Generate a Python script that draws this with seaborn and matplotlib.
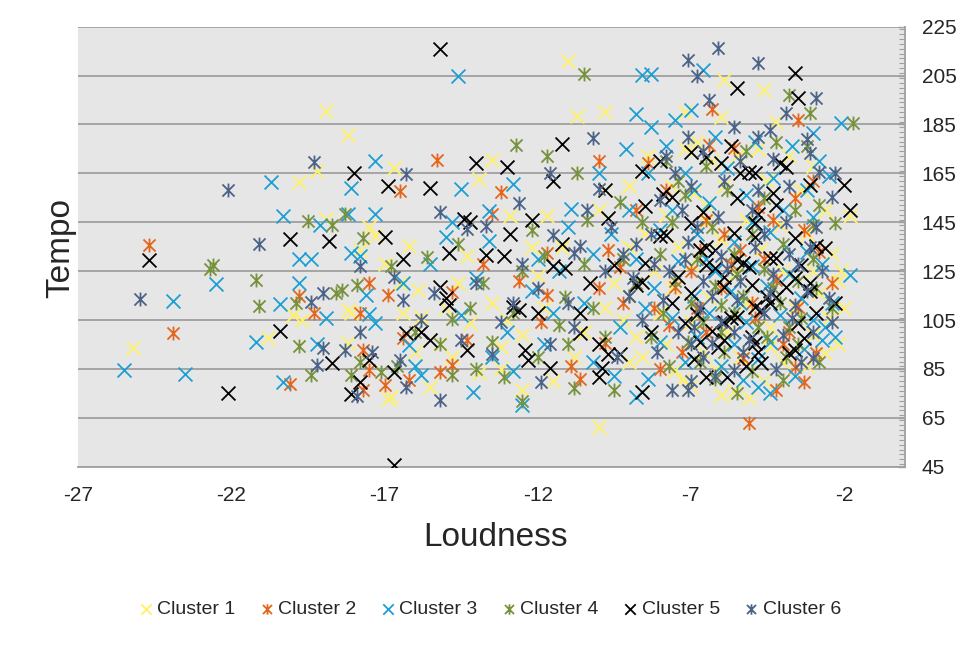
import matplotlib
matplotlib.use("Agg")
import matplotlib.pyplot as plt
from matplotlib.path import Path
from matplotlib.ticker import MultipleLocator
import seaborn as sns

# ---- data (loudness, tempo) ----
c1_loud = [-18.9, -18.2, -19.2, -19.8, -18.9, -17.3, -25.2, -20.8, -20.0, -18.2,
           -18.1, -18.2, -16.9, -11.0, -10.7, -9.8, -16.7, -13.5, -13.9, -12.9,
           -11.7, -10.0, -16.2, -15.9, -16.4, -15.8, -14.2, -16.8, -15.5, -13.9,
           -12.5, -10.0, -5.9, -4.6, -1.8, -2.6, -5.1, -6.0, -7.5, -7.3,
           -4.4, -9.8, -17.8, -17.0, -16.5, -15.0, -14.6, -13.5, -13.0, -12.5,
           -14.8, -13.2, -11.5, -10.5, -9.8, -9.0, -17.5, -15.2, -12.0, -11.2,
           -14.3, -13.2, -7.2, -6.8, -6.3, -5.5, -4.8, -3.8, -3.0, -7.6,
           -6.9, -5.9, -4.5, -3.4, -2.6, -7.8, -6.5, -5.2, -4.1, -3.2,
           -2.4, -7.4, -6.0, -4.7, -3.0, -2.2, -8.2, -7.0, -5.6, -4.0,
           -2.8, -7.6, -6.4, -5.2, -3.6, -2.5, -8.0, -7.0, -5.8, -4.4,
           -3.0, -2.2, -7.8, -6.6, -5.4, -4.0, -3.2, -8.6, -6.2, -4.6,
           -7.0, -5.6, -2.0, -2.1, -8.5, -9.0, -9.5, -9.2, -8.8, -9.0,
           -8.4, -6.0, -7.2, -4.2, -19.7, -16.0, -11.8, -10.8, -12.2, -6.5]
c1_tempo = [190.6, 180.7, 166.0, 161.3, 146.4, 139.4, 93.6, 97.6, 107.0, 109.0,
            107.8, 95.5, 72.8, 210.8, 188.3, 190.2, 167.3, 170.5, 162.5, 147.5,
            147.5, 150.2, 135.2, 117.3, 107.8, 106.4, 103.7, 73.5, 77.6, 83.2,
            76.2, 61.2, 203.0, 199.1, 147.5, 91.5, 73.0, 74.3, 84.6, 80.5,
            94.0, 158.0, 133.5, 128.0, 120.0, 110.0, 120.0, 112.0, 105.0, 99.0,
            90.0, 85.0, 80.0, 100.0, 110.0, 88.0, 143.0, 95.0, 123.0, 135.0,
            131.0, 94.0, 175, 178, 170, 172, 175, 172, 168, 160,
            157, 160, 162, 158, 150, 148, 145, 146, 144, 140,
            132, 135, 138, 134, 125, 121, 125, 128, 124, 125,
            116, 118, 114, 112, 110, 106, 108, 104, 100, 102,
            99, 95, 95, 92, 90, 88, 86, 90, 85, 80,
            78, 76, 110, 125, 140, 135, 120, 105, 98, 160,
            172, 188, 190, 186, 105, 92, 110, 90, 135, 152]

c2_loud = [-24.7, -23.9, -19.8, -19.3, -20.1, -17.8, -17.5, -17.7, -17.5, -17.7,
           -17.0, -15.3, -16.5, -13.2, -13.5, -11.7, -16.9, -14.8, -14.3, -16.4,
           -16.2, -15.2, -14.8, -10.9, -10.6, -11.7, -10.0, -6.3, -6.4, -3.5,
           -3.0, -3.6, -2.4, -2.9, -3.6, -3.3, -4.2, -5.1, -5.3, -3.5,
           -4.2, -4.9, -9.2, -7.7, -9.8, -10.0, -7.5, -9.7, -6.7, -9.3,
           -8.4, -6.5, -5.6, -4.8, -3.3, -4.3, -5.4, -7.0, -6.0, -5.0,
           -6.5, -7.3, -8.2, -4.6, -3.8, -8.8, -7.8, -5.9, -6.8, -12.6,
           -11.9, -13.8, -4.0, -5.7, -2.8, -8.0]
c2_tempo = [135.8, 99.9, 114.9, 107.8, 78.7, 108.0, 120.1, 92.7, 84.5, 76.2,
            78.3, 170.5, 157.8, 157.5, 148.2, 132.4, 115.3, 116.6, 96.8, 97.6,
            80.5, 83.8, 86.5, 86.0, 81.0, 115.3, 170.2, 191.2, 176.6, 186.9,
            162.0, 154.8, 120.0, 91.4, 85.9, 79.8, 76.4, 62.7, 89.3, 110.5,
            121.4, 106.0, 111.9, 103.0, 95.5, 118.0, 118.7, 133.6, 133.6, 126.9,
            169.1, 146.0, 175.3, 151.4, 141.8, 146.0, 133.6, 125, 118, 112,
            100, 92, 110, 130, 100, 150, 158, 140, 110, 121,
            104, 128, 95, 128, 133, 85]

c3_loud = [-17.3, -20.7, -18.1, -20.3, -19.1, -18.2, -17.3, -22.5, -23.9, -25.5,
           -23.5, -20.4, -21.2, -19.8, -19.4, -19.8, -18.9, -19.2, -20.3, -18.1,
           -17.8, -17.6, -17.5, -17.3, -14.6, -8.6, -8.3, -8.8, -8.3, -9.1,
           -10.0, -14.5, -12.8, -13.6, -10.9, -13.6, -16.2, -15.8, -14.1, -12.5,
           -8.8, -8.4, -6.6, -7.0, -2.1, -7.5, -3.0, -1.8, -2.6, -4.4,
           -4.8, -5.3, -15.5, -14.0, -12.2, -11.3, -10.2, -13.0, -11.8, -14.5,
           -10.5, -12.8, -9.3, -9.6, -11.0, -15.0, -16.4, -16.0, -7.8, -6.2,
           -4.9, -3.7, -2.8, -7.2, -5.8, -4.3, -3.2, -2.5, -7.6, -6.4,
           -5.2, -4.0, -3.0, -8.0, -6.8, -5.6, -4.4, -3.2, -7.4, -6.2,
           -5.0, -3.8, -2.7, -8.2, -6.9, -5.7, -4.5, -3.4, -7.6, -6.4,
           -5.2, -4.1, -3.0, -2.3, -8.0, -6.8, -5.6, -4.4, -3.3, -7.2,
           -6.0, -4.8, -3.6, -2.7, -8.5, -8.8, -9.0, -8.4, -12.0, -14.8,
           -11.5, -13.5, -10.2, -9.5, -6.5, -5.4, -3.9, -2.4, -6.9, -5.0]
c3_tempo = [170.2, 161.3, 159.1, 147.5, 144.0, 148.2, 148.2, 119.8, 112.9, 84.5,
            82.8, 111.4, 96.1, 130.0, 130.0, 120.2, 106.0, 95.2, 79.6, 132.4,
            131.0, 115.3, 107.5, 103.7, 204.8, 205.3, 205.7, 189.3, 183.8, 175.1,
            165.0, 158.7, 160.5, 149.5, 150.5, 137.4, 94.7, 82.4, 75.6, 70.1,
            73.5, 81.0, 207.3, 190.9, 185.8, 186.9, 181.7, 123.4, 102.3, 75.0,
            77.7, 80.5, 128, 122, 117, 125, 132, 100, 95, 107,
            112, 84, 102, 140, 143, 139, 120, 86, 176, 180,
            178, 176, 170, 165, 167, 163, 158, 164, 150, 153,
            156, 150, 147, 142, 140, 137, 141, 133, 129, 125,
            127, 124, 128, 118, 115, 117, 119, 114, 106, 108,
            104, 107, 105, 98, 96, 98, 95, 96, 93, 88,
            86, 89, 82, 97, 110, 130, 150, 165, 130, 145,
            108, 90, 88, 82, 130, 112, 135, 112, 158, 145]

c4_loud = [-19.5, -18.7, -18.3, -22.6, -22.7, -21.2, -21.1, -19.9, -19.8, -19.4,
           -18.6, -18.4, -17.9, -17.7, -17.8, -18.1, -17.1, -10.5, -12.7, -11.7,
           -10.7, -10.4, -9.3, -14.6, -15.6, -16.8, -16.6, -14.8, -11.3, -11.1,
           -13.5, -13.1, -14.8, -12.5, -10.8, -9.5, -3.8, -3.1, -1.7, -2.8,
           -2.3, -3.0, -4.0, -5.5, -6.2, -7.4, -16.0, -15.2, -13.8, -12.5,
           -11.8, -10.2, -9.8, -12.0, -10.5, -12.2, -14.0, -9.0, -7.8, -6.5,
           -5.2, -4.2, -3.2, -7.2, -5.8, -4.6, -3.6, -7.6, -6.3, -5.0,
           -4.0, -3.0, -8.0, -6.8, -5.6, -4.6, -3.5, -7.5, -6.2, -5.3,
           -4.1, -2.9, -7.9, -6.6, -5.6, -4.8, -3.4, -8.3, -7.1, -5.9,
           -4.5, -3.5, -7.7, -6.7, -5.0, -3.9, -2.8, -8.8, -9.2, -2.4,
           -6.0, -7.0, -14.2, -12.8, -11.0, -8.6, -6.0, -4.3, -5.5, -3.8]
c4_tempo = [145.4, 144.0, 148.2, 127.6, 126.0, 121.4, 110.7, 111.9, 94.2, 82.4,
            116.0, 117.3, 119.4, 138.7, 87.9, 82.4, 83.8, 205.7, 176.5, 172.1,
            165.0, 146.1, 153.3, 136.2, 130.7, 127.2, 86.0, 105.6, 103.0, 114.6,
            96.1, 81.7, 82.4, 72.0, 77.1, 76.2, 197.1, 189.8, 185.8, 152.0,
            144.6, 143.9, 80.5, 75.0, 81.0, 162.0, 100, 95, 120, 125,
            131, 110, 98, 90, 128, 142, 85, 115, 170, 168,
            174, 178, 176, 156, 158, 155, 150, 145, 143, 140,
            136, 130, 132, 130, 132, 126, 121, 121, 119, 115,
            112, 118, 108, 104, 108, 102, 106, 98, 96, 92,
            98, 95, 86, 88, 84, 90, 88, 120, 130, 110,
            111, 112, 110, 108, 95, 145, 100, 118, 124, 102]

c5_loud = [-15.2, -16.7, -24.7, -22.1, -20.1, -18.8, -18.0, -16.9, -17.0, -20.4,
           -18.7, -17.5, -17.8, -18.1, -15.5, -14.0, -13.0, -11.2, -11.5, -9.8,
           -8.0, -8.6, -14.4, -14.2, -12.2, -9.7, -12.9, -14.9, -13.7, -13.1,
           -11.2, -16.4, -15.2, -15.0, -14.9, -14.3, -16.3, -15.8, -15.5, -16.7,
           -12.4, -12.3, -11.6, -10.0, -9.9, -10.6, -10.0, -9.7, -9.3, -8.6,
           -10.6, -12.0, -12.6, -12.8, -10.3, -11.5, -11.1, -9.5, -8.8, -8.6,
           -8.5, -8.0, -7.9, -8.5, -3.6, -5.5, -3.5, -5.7, -4.1, -3.9,
           -6.5, -7.0, -6.0, -5.4, -5.1, -4.9, -2.0, -3.1, -1.8, -4.3,
           -4.2, -5.5, -7.6, -6.6, -2.9, -2.6, -2.3, -3.5, -3.8, -3.6,
           -6.5, -5.8, -4.7, -4.8, -4.9, -5.0, -6.7, -6.1, -5.9, -7.2,
           -5.9, -5.7, -5.5, -4.9, -4.7, -4.4, -4.5, -4.2, -3.6, -3.9,
           -3.1, -3.1, -7.0, -7.4, -6.7, -6.5, -6.2, -6.5, -6.2, -5.5,
           -5.3, -5.1, -5.9, -5.9, -5.6, -4.9, -4.9, -4.8, -4.4, -4.2,
           -3.6, -7.0, -7.8, -6.8, -6.3, -5.2, -3.3, -2.9, -3.4, -6.9,
           -8.3, -7.6, -5.0]
c5_tempo = [215.7, 45.5, 129.4, 75.1, 138.1, 137.2, 165.3, 159.8, 139.1, 100.5,
            87.6, 88.6, 79.6, 74.9, 159.1, 169.1, 167.6, 176.9, 162.0, 158.2,
            169.9, 166.0, 146.4, 145.0, 146.1, 146.6, 140.0, 132.6, 131.8, 131.4,
            136.2, 130.0, 118.7, 113.9, 111.2, 92.7, 99.5, 100.2, 96.8, 83.8,
            92.7, 88.6, 85.3, 81.7, 85.3, 99.5, 95.4, 91.3, 91.3, 75.6,
            107.8, 107.8, 109.1, 110.5, 120.1, 127.0, 126.3, 127.6, 119.4, 120.7,
            128.4, 139.4, 156.4, 151.7, 206.0, 200.1, 195.7, 176.2, 169.1, 167.7,
            171.8, 173.9, 169.4, 165.0, 165.7, 165.0, 160.3, 160.3, 150.0, 156.9,
            152.0, 154.8, 155.5, 149.3, 135.1, 134.3, 111.8, 103.7, 91.4, 92.7,
            81.8, 81.8, 87.3, 92.0, 95.5, 98.2, 96.1, 94.1, 96.8, 103.7,
            104.3, 105.7, 106.4, 110.5, 109.1, 111.9, 114.6, 114.6, 122.1, 118.6,
            120.0, 117.0, 116.0, 122.7, 133.7, 135.0, 133.7, 127.5, 126.2, 129.6,
            128.2, 126.8, 122.7, 118.6, 140.5, 139.1, 144.6, 148.5, 130.3, 130.3,
            138.4, 144.6, 139.8, 107.5, 100.5, 86.0, 97.5, 108.0, 127.5, 89.0,
            100.0, 112.0, 119.5]

c6_loud = [-19.3, -22.1, -21.1, -25.0, -19.4, -19.0, -19.0, -19.2, -17.8, -17.8,
           -18.3, -17.4, -17.9, -16.3, -15.2, -14.3, -13.7, -12.6, -11.5, -11.6,
           -10.0, -10.2, -16.7, -16.4, -15.4, -16.5, -16.3, -15.2, -13.5, -11.9,
           -11.6, -10.8, -10.6, -8.0, -6.1, -7.1, -6.8, -4.8, -2.9, -6.4,
           -3.9, -5.6, -7.1, -4.8, -4.4, -3.2, -3.1, -7.5, -2.8, -2.3,
           -2.4, -3.1, -2.5, -3.0, -5.6, -7.6, -7.1, -7.0, -6.9, -6.3,
           -14.0, -12.8, -13.2, -9.8, -9.0, -10.8, -12.5, -9.4, -14.5, -15.8,
           -9.6, -8.8, -7.8, -6.6, -5.4, -4.3, -7.0, -5.9, -4.8, -3.8,
           -7.3, -6.1, -5.0, -3.9, -2.9, -8.2, -7.1, -6.0, -4.9, -3.8,
           -2.7, -7.7, -6.6, -5.4, -4.3, -3.2, -7.9, -6.7, -5.5, -4.6,
           -3.6, -2.4, -7.4, -6.0, -5.1, -4.0, -3.0, -8.1, -6.6, -5.3,
           -4.2, -3.4, -6.2, -8.6, -8.9, -12.0, -10.4, -9.2, -11.0, -8.3,
           -6.8, -4.6, -7.2, -5.8, -3.5, -6.3, -4.4, -7.0, -5.6, -3.7]
c6_tempo = [169.7, 158.2, 136.2, 113.6, 112.5, 116.0, 93.5, 86.5, 127.0, 100.2,
            92.7, 92.0, 73.8, 164.6, 149.2, 142.2, 143.4, 153.0, 139.6, 165.3,
            158.5, 179.6, 122.8, 113.2, 116.0, 88.6, 77.6, 72.1, 91.3, 79.6,
            95.4, 132.4, 135.1, 154.3, 216.2, 211.4, 204.9, 210.3, 195.7, 195.0,
            189.8, 184.1, 180.0, 180.0, 182.8, 179.0, 173.2, 165.0, 165.7, 165.0,
            155.5, 135.0, 114.0, 89.3, 84.6, 76.4, 76.4, 80.0, 102.3, 95.5,
            120, 112, 104, 125, 115, 102, 128, 90, 97, 105,
            143, 136, 172, 174, 170, 171, 160, 162, 158, 160,
            150, 147, 150, 145, 143, 128, 137, 131, 135, 132,
            125, 125, 121, 121, 124, 117, 113, 110, 113, 108,
            111, 104, 100, 104, 97, 99, 100, 92, 90, 92,
            85, 88, 82, 105, 122, 118, 150, 132, 112, 140,
            143, 140, 130, 126, 128, 115, 116, 95, 100, 106]

names = ["Cluster 1", "Cluster 2", "Cluster 3", "Cluster 4", "Cluster 5", "Cluster 6"]
colors = ["#FFF066", "#E4661C", "#1C9FD4", "#76923C", "#000000", "#4C6388"]

# Excel-like asterisk marker: an "x" with a vertical bar through it
star = Path([(-1, -1), (1, 1), (-1, 1), (1, -1), (0, -1.15), (0, 1.15)],
            [Path.MOVETO, Path.LINETO] * 3)
markers = ["x", star, "x", star, "x", star]

sns.set_style("white", {"axes.facecolor": "#E6E6E6"})
plt.rcParams["font.family"] = ["Liberation Sans", "DejaVu Sans"]
plt.rcParams["axes.unicode_minus"] = False

fig = plt.figure(figsize=(9.75, 6.45), dpi=100)
ax = fig.add_axes([0.0803, 0.2764, 0.8480, 0.6822])

series = [(c1_loud, c1_tempo), (c2_loud, c2_tempo), (c3_loud, c3_tempo),
          (c4_loud, c4_tempo), (c5_loud, c5_tempo), (c6_loud, c6_tempo)]
for (xs, ys), name, col, mk in zip(series, names, colors, markers):
    sns.scatterplot(x=xs, y=ys, ax=ax, marker=mk, color=col, edgecolor=col,
                    s=100, linewidth=1.3, label=name, zorder=3)

ax.set_xlim(-27, 0)
ax.set_ylim(45, 225)
ax.set_xticks(range(-27, -1, 5))
ax.set_yticks(range(45, 226, 20))
ax.yaxis.tick_right()
ax.yaxis.set_minor_locator(MultipleLocator(2))
ax.set_axisbelow(True)
ax.grid(axis="y", which="major", color="#A0A0A0", linewidth=1.3)
ax.grid(axis="x", visible=False)

for side in ["left", "top"]:
    ax.spines[side].set_visible(False)
for side in ["bottom", "right"]:
    ax.spines[side].set_color("#A0A0A0")
    ax.spines[side].set_linewidth(1.3)

ax.tick_params(axis="y", which="major", direction="in", length=5, width=1,
               color="#A0A0A0", labelsize=15, pad=12, right=True, left=False)
ax.tick_params(axis="y", which="minor", direction="in", length=4, width=0.8,
               color="#A0A0A0", right=True, left=False)
ax.tick_params(axis="x", which="major", direction="out", length=5, width=1,
               color="#A0A0A0", labelsize=15, pad=9)
ax.set_xlabel("")
ax.set_ylabel("")

fig.text(61 / 975, 1 - 248 / 645, "Tempo", rotation=90, ha="center",
         va="center", fontsize=24)
fig.text(496 / 975, 1 - 538 / 645, "Loudness", ha="center", va="center",
         fontsize=24)

handles, labels = ax.get_legend_handles_labels()
ax.get_legend().remove()
fig.legend(handles, labels, loc="center", bbox_to_anchor=(0.5, 1 - 609 / 645),
           ncol=6, frameon=False, fontsize=14, handletextpad=0.0,
           columnspacing=1.0, markerscale=0.75, handlelength=1.2)

fig.savefig("out.png", dpi=100)
